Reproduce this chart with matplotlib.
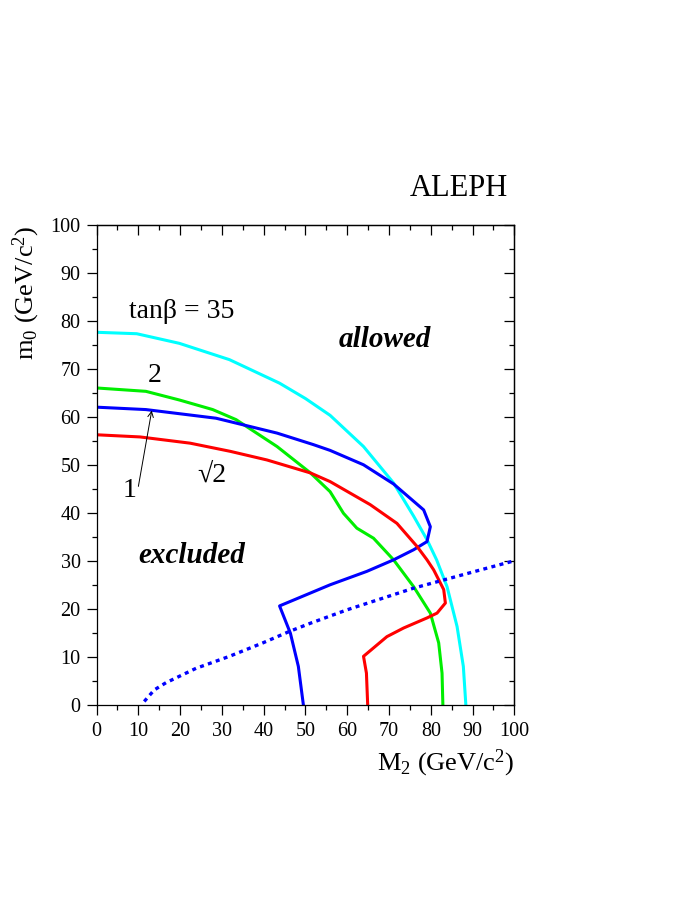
import matplotlib
matplotlib.use("Agg")
import matplotlib.pyplot as plt
from matplotlib.ticker import MultipleLocator

plt.rcParams['font.family'] = ['Liberation Serif', 'DejaVu Serif']
plt.rcParams['mathtext.fontset'] = 'custom'
plt.rcParams['mathtext.rm'] = 'Liberation Serif'
plt.rcParams['mathtext.it'] = 'Liberation Serif:italic'

# exclusion contours in the (M2, m0) plane, one per tan(beta)
cyan_x = [0, 9.6, 19.8, 31.8, 43.8, 50, 55.9, 63.9, 71.1, 75.9, 79.1, 81.4, 83.9, 86.3, 87.8, 88.4]
cyan_y = [77.6, 77.3, 75.3, 71.9, 67.0, 63.8, 60.3, 53.8, 46.2, 39.3, 34.4, 30.2, 24.6, 16.3, 8.0, 0]

green_x = [0, 11.8, 19.8, 27.8, 33.4, 43.2, 51.2, 55.9, 59.1, 62.3, 66.3, 71.1, 75.9, 79.9, 81.9, 82.7, 82.9]
green_y = [66.0, 65.3, 63.5, 61.5, 59.4, 53.8, 48.3, 44.4, 39.9, 36.8, 34.7, 30.2, 24.6, 19.1, 12.9, 6.6, 0]

blue_x = [0, 11.8, 28.6, 43.2, 51.9, 55.9, 63.9, 71.1, 78.3, 79.9, 79.1, 75.9, 71.1, 64.7,
          55.9, 43.8, 46.4, 48.3, 49.5]
blue_y = [62.0, 61.5, 59.7, 56.6, 54.2, 53.0, 50.0, 46.0, 40.6, 37.1, 34.0, 32.3, 30.2, 27.8,
          25.0, 20.6, 14.9, 8.0, 0]

red_x = [0, 10.4, 22.4, 32.0, 40.8, 51.2, 55.9, 65.5, 71.9, 76.7, 79.1, 80.7, 83.1, 83.5,
         81.5, 79.1, 73.5, 69.5, 63.9, 64.6, 64.9]
red_y = [56.25, 55.8, 54.5, 52.8, 51.0, 48.3, 46.5, 41.7, 37.8, 33.0, 30.2, 28.1, 24.0, 21.2,
         19.1, 18.1, 16.0, 14.2, 10.1, 6.6, 0]

dot_x = [11.4, 13.8, 16.6, 23.8, 31.8, 39.8, 46.2, 51.2, 60, 75.9, 91.9, 100]
dot_y = [0.7, 3.1, 4.6, 7.6, 10.1, 12.9, 15.3, 17.0, 19.8, 24.3, 28.1, 30.0]

fig = plt.figure(figsize=(6.95, 8.99), dpi=100)
ax = fig.add_axes([0.139, 0.216, 0.601, 0.534])

lw = 2.2
ax.plot(cyan_x, cyan_y, color='#00ffff', lw=lw)
ax.plot(green_x, green_y, color='#00ee00', lw=lw)
ax.plot(blue_x, blue_y, color='#0000ff', lw=lw)
ax.plot(red_x, red_y, color='#ff0000', lw=lw)
ax.plot(dot_x, dot_y, color='#0000ff', lw=2.4, linestyle=(0, (1.2, 1.3)))

ax.set_xlim(0, 100)
ax.set_ylim(0, 100)
ax.xaxis.set_major_locator(MultipleLocator(10))
ax.xaxis.set_minor_locator(MultipleLocator(5))
ax.yaxis.set_major_locator(MultipleLocator(10))
ax.yaxis.set_minor_locator(MultipleLocator(5))
ax.tick_params(which='both', direction='out', labelsize=14.5, width=0.9)
ax.tick_params(which='major', length=7.5)
ax.tick_params(which='minor', length=3.6)
ax.tick_params(axis='x', pad=5)
ax.tick_params(axis='y', pad=4)
for s in ax.spines.values():
    s.set_linewidth(0.9)

# inward ticks on the top and right
top = ax.secondary_xaxis('top')
top.xaxis.set_major_locator(MultipleLocator(10))
top.xaxis.set_minor_locator(MultipleLocator(5))
right = ax.secondary_yaxis('right')
right.yaxis.set_major_locator(MultipleLocator(10))
right.yaxis.set_minor_locator(MultipleLocator(5))
for sec in (top, right):
    sec.tick_params(which='both', direction='in', labelleft=False, labelright=False,
                    labeltop=False, labelbottom=False, width=0.9)
    sec.tick_params(which='major', length=7.5)
    sec.tick_params(which='minor', length=3.6)
    sec.spines[:].set_linewidth(0.9)

ax.text(1.0, -0.09, r'M$_\mathrm{2}$ (GeV/c$^\mathrm{2}$)', transform=ax.transAxes,
        ha='right', va='top', fontsize=19)
fig.text(0.038, 0.749, r'm$_\mathrm{0}$ (GeV/c$^\mathrm{2}$)', rotation=90,
         ha='center', va='top', fontsize=19)
ax.text(0.985, 1.075, 'ALEPH', transform=ax.transAxes, ha='right', va='center', fontsize=22)

ax.text(20.4, 81.9, 'tanβ = 35', ha='center', va='center', fontsize=20)
ax.text(14.0, 68.7, '2', ha='center', va='center', fontsize=20)
ax.text(27.6, 47.9, '√2', ha='center', va='center', fontsize=20)
ax.text(7.8, 44.6, '1', ha='center', va='center', fontsize=20)
ax.annotate('', xy=(13.2, 61.3), xytext=(10.0, 45.5),
            arrowprops=dict(arrowstyle='->', lw=0.7, color='k', shrinkA=0, shrinkB=0))
ax.text(69.1, 76.2, 'allowed', ha='center', va='center', fontsize=21,
        fontweight='bold', fontstyle='italic')
ax.text(22.8, 31.0, 'excluded', ha='center', va='center', fontsize=21,
        fontweight='bold', fontstyle='italic')

fig.savefig('out.png', dpi=100)
